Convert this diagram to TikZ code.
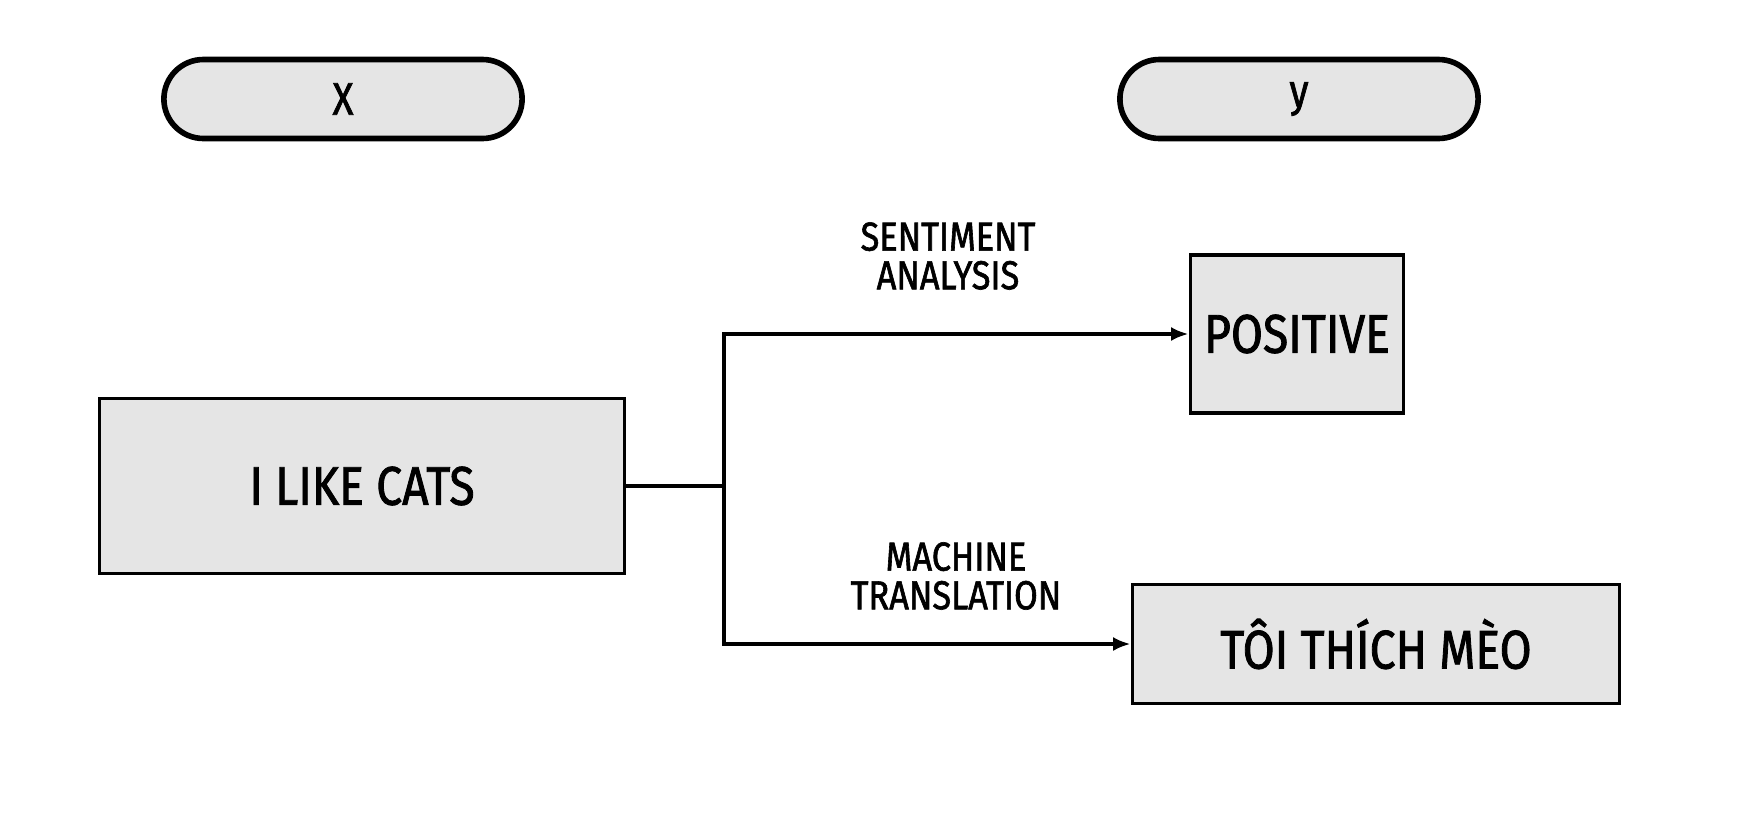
\documentclass[tikz,border=0pt]{standalone}
\usepackage{fontspec}
\setmainfont[FakeStretch=0.85,FakeBold=1.5]{Fira Sans}
\usepackage{tikz}
\usetikzlibrary{arrows.meta,shapes.misc}
\definecolor{boxgray}{RGB}{229,229,229}

\begin{document}
\begin{tikzpicture}[x=0.02cm,y=-0.02cm,
    pill/.style={rounded rectangle,draw,line width=3.2pt,fill=boxgray,
      minimum width=7.4cm,minimum height=1.58cm,font=\fontsize{26}{28}\selectfont},
    databox/.style={rectangle,draw,line width=2.2pt,fill=boxgray,
      font=\fontsize{31}{34}\selectfont},
    task/.style={align=center,font=\fontsize{23}{22}\selectfont},
    link/.style={line width=2pt},
    linkarrow/.style={link,-{Latex[length=10pt,width=8pt]}}]
  \useasboundingbox (0,0) rectangle (1760,832);
  % column headers
  \node[pill] (xhead) at (343,99) {X};
  \node[pill] (yhead) at (1299,99) {y};
  % input sentence and the two outputs
  \node[databox,minimum width=10.5cm,minimum height=3.5cm] (input) at (362,486) {I LIKE CATS};
  \node[databox,minimum width=4.26cm,minimum height=3.16cm] (pos) at (1297,334) {POSITIVE};
  \node[databox,minimum width=9.74cm,minimum height=2.38cm] (trans) at (1376,644) {TÔI THÍCH MÈO};
  % branching connectors
  \coordinate (split) at (724,486);
  \draw[link] (input.east) -- (split);
  \draw[linkarrow] (split) |- (pos.west);
  \draw[linkarrow] (split) |- (trans.west);
  \node[task] (sa) at (948,256) {SENTIMENT\\ANALYSIS};
  \node[task] (mt) at (956,576) {MACHINE\\TRANSLATION};
\end{tikzpicture}
\end{document}
